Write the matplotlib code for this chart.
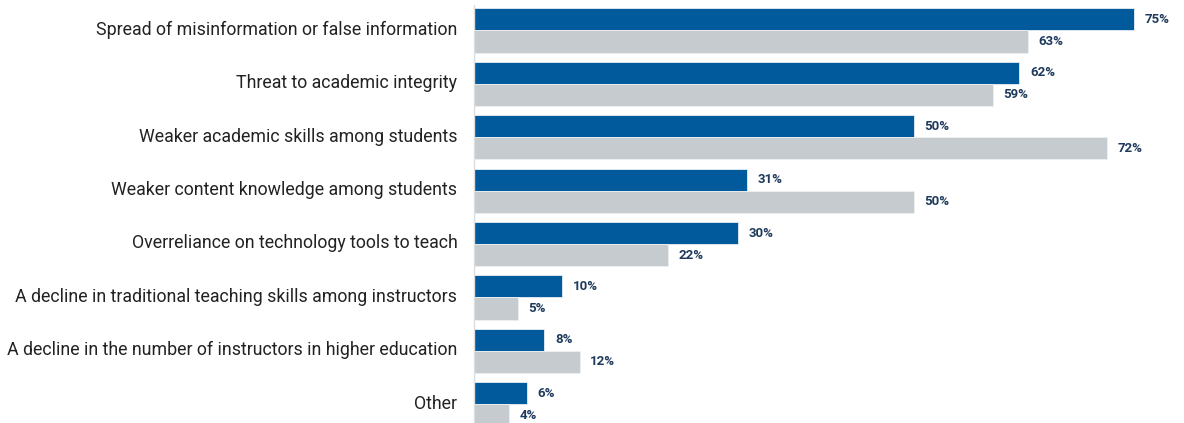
import numpy as np
import matplotlib.pyplot as plt
from matplotlib.transforms import ScaledTranslation

plt.rcParams['font.family'] = ['Roboto', 'DejaVu Sans']

categories = [
    "Spread of misinformation or false information",
    "Threat to academic integrity",
    "Weaker academic skills among students",
    "Weaker content knowledge among students",
    "Overreliance on technology tools to teach",
    "A decline in traditional teaching skills among instructors",
    "A decline in the number of instructors in higher education",
    "Other",
]
series_a = [75, 62, 50, 31, 30, 10, 8, 6]
series_b = [63, 59, 72, 50, 22, 5, 12, 4]

blue = "#005a9c"
gray = "#c5cbce"
label_color = "#1e3a5c"

fig = plt.figure(figsize=(11.84, 4.23), dpi=100)
ax = fig.add_axes([474 / 1184, 0, 1 - 474 / 1184, 1 - 5 / 423])

y = np.arange(len(categories))
h = 0.415
bars_a = ax.barh(y - h / 2, series_a, height=h, color=blue, edgecolor="#e8eef4", linewidth=0.6)
bars_b = ax.barh(y + h / 2, series_b, height=h, color=gray, edgecolor="#eef0f1", linewidth=0.6)

for bars, vals in ((bars_a, series_a), (bars_b, series_b)):
    for bar, v in zip(bars, vals):
        ax.text(v + 1.2, bar.get_y() + bar.get_height() / 2, f"{v}%",
                va="center", ha="left", fontsize=9.5, fontweight="bold",
                color=label_color)

ax.set_xlim(0, 80.7)
ax.set_ylim(7.35, -0.477)
ax.set_yticks(y)
ax.set_yticklabels(categories, fontsize=12.8, color="#222222")
ax.tick_params(axis="y", length=0, pad=12)
# nudge category labels up a touch
shift = ScaledTranslation(0, 2 / 72, fig.dpi_scale_trans)
for lbl in ax.get_yticklabels():
    lbl.set_transform(lbl.get_transform() + shift)
ax.set_xticks([])
for side in ("top", "right", "bottom"):
    ax.spines[side].set_visible(False)
ax.spines["left"].set_color("#dddddd")
ax.spines["left"].set_linewidth(1)

fig.savefig("out.png", dpi=100)
